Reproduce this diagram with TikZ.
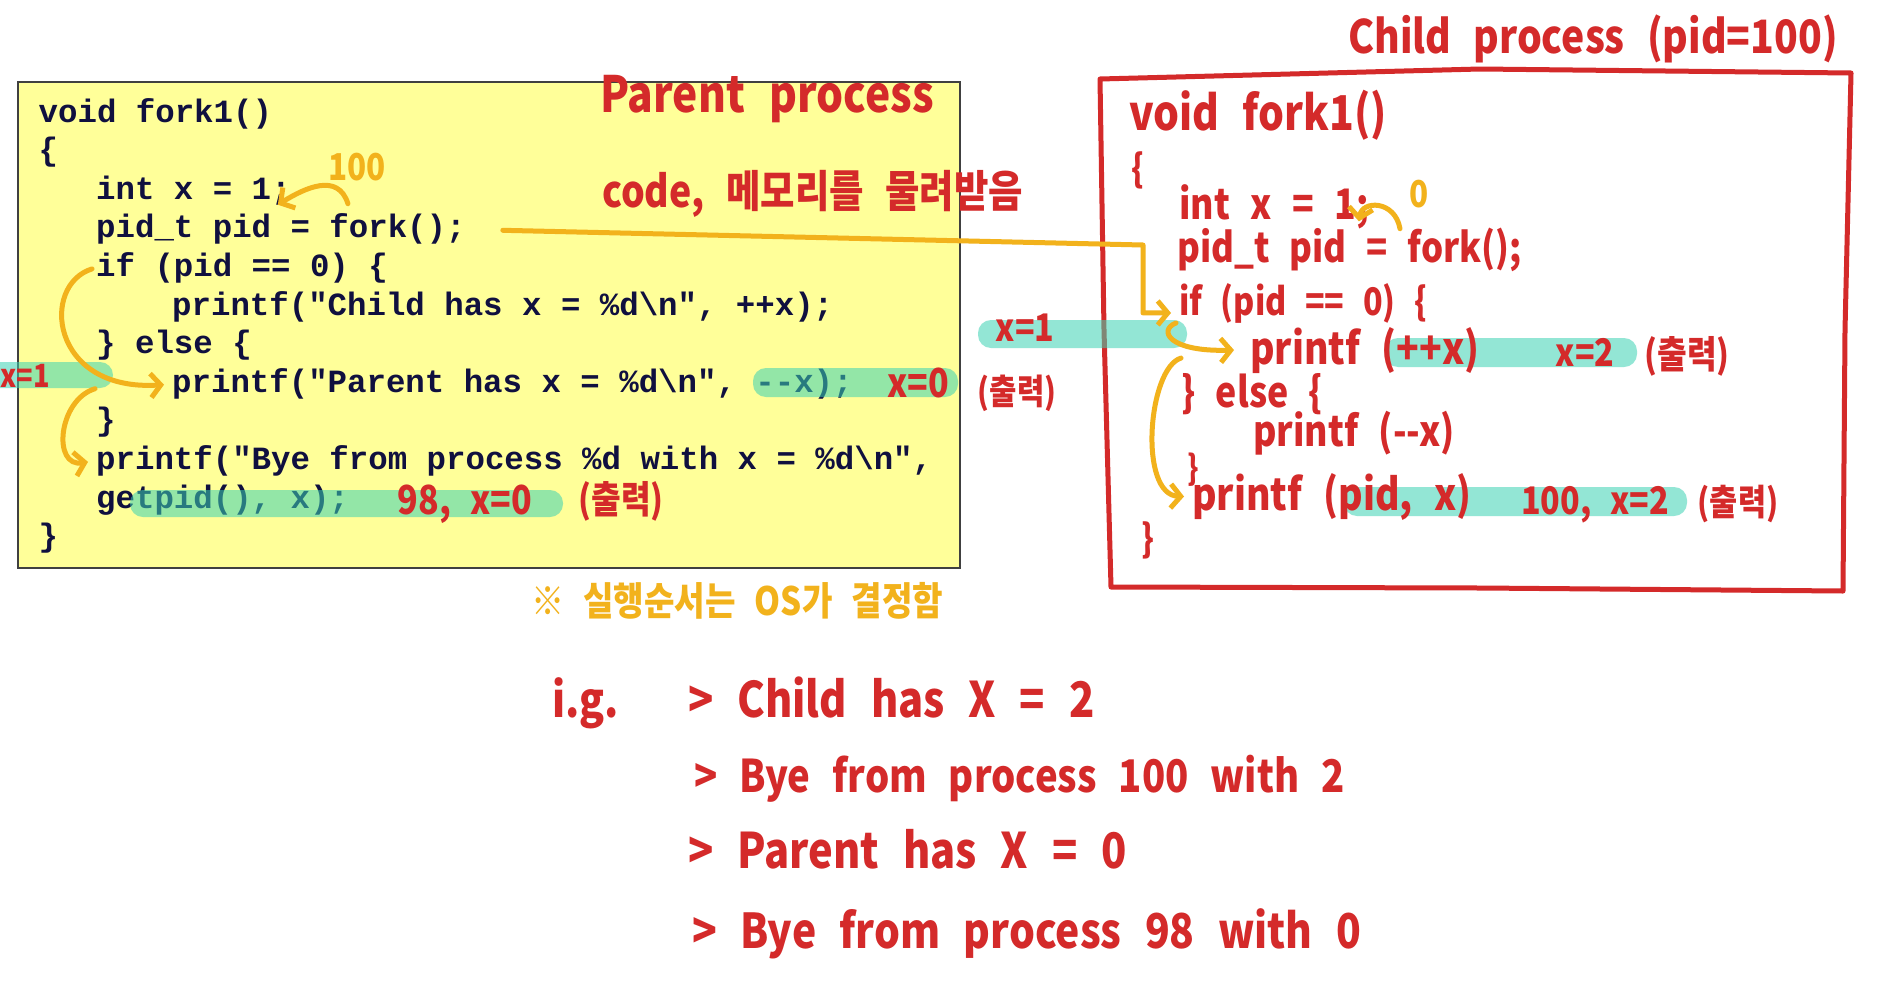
\documentclass[tikz,border=0pt]{standalone}
\usepackage{fontspec}
\setmainfont{Liberation Sans}
\newfontfamily\codefont[Ligatures=TeXOff]{Liberation Mono}
\newfontfamily\hand[FakeStretch=0.85,WordSpace=2.5,Ligatures=TeXOff]{Noto Sans CJK KR}
\usetikzlibrary{arrows.meta}
\definecolor{hred}{HTML}{D42A2A}
\definecolor{horange}{HTML}{F2B21C}
\definecolor{codeblue}{HTML}{10103F}
\definecolor{padyellow}{HTML}{FFFF99}
\definecolor{marker}{HTML}{3CD2B4}
\begin{document}
\begin{tikzpicture}[x=1pt,y=-1pt,>={Straight Barb[length=10pt,width=24pt]}]
        \tikzset{code/.style={anchor=base west, inner sep=0pt, text height=22pt, text depth=7pt, text=codeblue, font=\codefont\bfseries\fontsize{32.4}{38}\selectfont},
                 note/.style={anchor=base west, inner sep=0pt, text=hred, font=\hand\bfseries\fontsize{#1}{#1}\selectfont},
                 note/.default=42,
                 hl/.style={fill=marker, fill opacity=0.55, rounded corners=13pt},
                 orarrow/.style={draw=horange, line width=5pt, line cap=round, line join=round, ->},
                 handbox/.style={draw=hred, line width=5pt, line cap=round, line join=round}}
        \fill[white] (0,0) rectangle (1887,1004);
        \useasboundingbox (0,0) rectangle (1887,1004);
        \node[draw=black!75, fill=padyellow, line width=1.5pt, minimum width=942pt, minimum height=486pt, inner sep=0pt] (pbox) at (489,325) {};
        \draw[handbox] (1100,79) -- (1480,69) -- (1851,73) -- (1845,330) -- (1843,591) -- (1480,588) -- (1111,587) -- (1104,330) -- cycle;
        \node[code] (psig) at (38.5,122) {void fork1()};
        \node[code] (pob) at (38.5,160.6) {\{};
        \node[code] (pint) at (96,199.2) {int x = 1;};
        \node[code] (pfork) at (96,237.8) {pid\_t pid = fork();};
        \node[code] (pif) at (96,276.4) {if (pid == 0) \{};
        \node[code] (pchild) at (172,315) {printf("Child has x = \%d\textbackslash n", ++x);};
        \node[code] (pelse) at (96,353.6) {\} else \{};
        \node[code] (pparent) at (172,392.2) {printf("Parent has x = \%d\textbackslash n", --x);};
        \node[code] (pcb) at (96,430.8) {\}};
        \node[code] (pbye) at (96,469.4) {printf("Bye from process \%d with x = \%d\textbackslash n",};
        \node[code] (pgetpid) at (96,508) {getpid(), x);};
        \node[code] (pend) at (38.5,546.6) {\}};
        \fill[hl] (-20,362) rectangle (113,388);
        \fill[hl] (753,368) rectangle (958,397);
        \fill[hl] (130,490) rectangle (563,517);
        \fill[hl] (978,320) rectangle (1187,348);
        \fill[hl] (1385,338) rectangle (1637,367);
        \fill[hl] (1344,487) rectangle (1687,516);
        \node[note=50] (ptitle) at (600,112) {Parent process};
        \node[note=44] (inherit) at (602,207) {code, 메모리를 물려받음};
        \node[note=46] (ctitle) at (1348,53) {Child process (pid=100)};
        \node[note=37, text=horange] (ret100) at (328,180) {100};
        \node[note=39, text=horange] (osnote) at (531,615) {※ 실행순서는 OS가 결정함};
        \node[note=32, anchor=base east] (px1) at (50,387) {x=1};
        \node[note=40, anchor=base] (px0) at (918,397) {x=0};
        \node[note=35, anchor=base] (pout1) at (1017,404) {(출력)};
        \node[note=40, anchor=base] (pval) at (465,514) {98, x=0};
        \node[note=38, anchor=base] (pout2) at (621,513) {(출력)};
        \node[note=48] (csig) at (1129,130) {void fork1()};
        \node[note=38, anchor=base] (cob) at (1138,182) {\{};
        \node[note=42] (cint) at (1179,219) {int x = 1;};
        \node[note=37, anchor=base, text=horange] (ret0) at (1419,207) {0};
        \node[note=41] (cfork) at (1177,262) {pid\_t pid = fork();};
        \node[note=38] (cif) at (1179,315) {if (pid == 0) \{};
        \node[note=38, anchor=base] (cx1) at (1025,341) {x=1};
        \node[note=44] (cpr1) at (1250,364) {printf (++x)};
        \node[note=38, anchor=base] (cx2) at (1585,366) {x=2};
        \node[note=38, anchor=base] (cout1) at (1687,368) {(출력)};
        \node[note=42] (celse) at (1181,407) {\} else \{};
        \node[note=42] (cpr2) at (1253,446) {printf (--x)};
        \node[note=34, anchor=base] (ccb) at (1193,480) {\}};
        \node[note=44] (cpr3) at (1192,510) {printf (pid, x)};
        \node[note=38, anchor=base] (cval) at (1595,514) {100, x=2};
        \node[note=36, anchor=base] (cout2) at (1738,515) {(출력)};
        \node[note=38, anchor=base] (cend) at (1148,552) {\}};
        \node[note=48] (ig) at (552,717) {i.g.};
        \node[note=49] (out1) at (688,717) {> Child has X = 2};
        \node[note=45] (out2) at (694,792) {> Bye from process 100 with 2};
        \node[note=49] (out3) at (688,868) {> Parent has X = 0};
        \node[note=48] (out4) at (692,948) {> Bye from process 98 with 0};
        \draw[orarrow] ([shift={(-9,23)}]ret100.south) .. controls (338,172) and (305,188) .. ([shift={(-13,13)}]pint.east);
        \draw[orarrow] ([shift={(-19,21)}]ret0.south) .. controls (1395,200) and (1362,200) .. ([shift={(-10,15)}]cint.east);
        \draw[orarrow] ([xshift=37pt]pfork.east) -- (1143,245) |- ([shift={(-8,10)}]cif.west);
        \draw[orarrow] ([xshift=-4pt]pif.west) .. controls (40,285) and (50,392) .. ([xshift=-8pt]pparent.west);
        \draw[orarrow] ([shift={(-77,4)}]pparent.west) .. controls (58,400) and (52,468) .. ([xshift=-8pt]pbye.west);
        \draw[orarrow] ([shift={(-3,20)}]cif.west) .. controls (1158,330) and (1168,352) .. ([xshift=-16pt]cpr1.west);
        \draw[orarrow] ([shift={(-69,8)}]cpr1.west) .. controls (1148,368) and (1138,495) .. ([xshift=-8pt]cpr3.west);
\end{tikzpicture}
\end{document}
